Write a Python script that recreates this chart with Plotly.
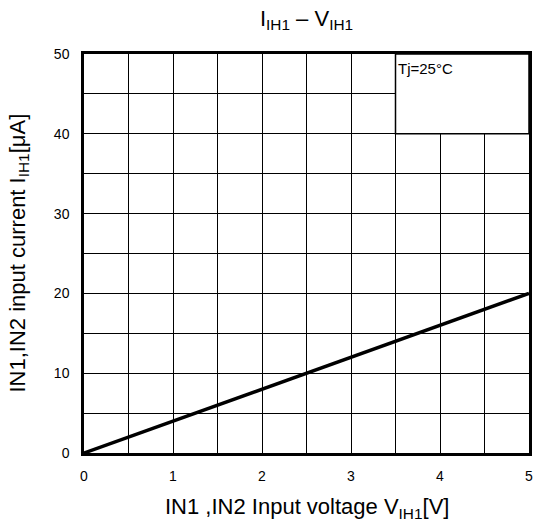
import plotly.graph_objects as go

voltage = [0, 5]
current = [0, 20]
x_ticks = [0, 1, 2, 3, 4, 5]
y_ticks = [0, 10, 20, 30, 40, 50]

font = "Liberation Sans, Arial, sans-serif"

W, H = 536, 527
L, R, T, B = 84, 7, 54, 74

fig = go.Figure()
fig.add_trace(go.Scatter(x=voltage, y=current, mode="lines",
                         line=dict(color="black", width=3.5), showlegend=False,
                         hoverinfo="skip"))

fig.add_shape(type="rect", xref="x", yref="y", x0=3.5, x1=5, y0=40, y1=50,
              fillcolor="white", line=dict(color="black", width=1.5), layer="above")
fig.add_annotation(x=3.5, y=50, xref="x", yref="y", text="Tj=25°C", showarrow=False,
                   xanchor="left", yanchor="top", xshift=0, yshift=-4,
                   font=dict(family=font, size=15, color="black"))

fig.add_annotation(x=0.5, y=0, xref="paper", yref="paper", xanchor="center", yanchor="middle",
                   yshift=-55, showarrow=False,
                   text="IN1 ,IN2 Input voltage V<sub>IH1</sub>[V]",
                   font=dict(family=font, size=22, color="black"))
fig.add_annotation(x=0, y=0.5, xref="paper", yref="paper", xanchor="center", yanchor="middle",
                   xshift=-66, showarrow=False, textangle=-90,
                   text="IN1,IN2 input current I<sub>IH1</sub>[μA]",
                   font=dict(family=font, size=22, color="black"))

fig.update_layout(
    width=W, height=H,
    margin=dict(l=L, r=R, t=T, b=B, autoexpand=False),
    paper_bgcolor="white", plot_bgcolor="white",
    font=dict(family=font, color="black"),
    title=dict(text="I<sub>IH1</sub> – V<sub>IH1</sub>", x=(L + (W - R)) / 2 / W, xanchor="center",
               xref="container", yref="container", y=1 - 18 / H, yanchor="middle",
               font=dict(size=22, family=font, color="black")),
)

fig.update_xaxes(range=[0, 5], tickvals=x_ticks, ticktext=[str(v) for v in x_ticks],
                 showgrid=True, gridcolor="black", gridwidth=1,
                 minor=dict(dtick=0.5, showgrid=True, gridcolor="black", gridwidth=1),
                 showline=True, linecolor="black", linewidth=2.5, mirror=True,
                 ticks="outside", ticklen=8, tickcolor="rgba(0,0,0,0)",
                 tickfont=dict(size=14, family=font), zeroline=False, automargin=False)
fig.update_yaxes(range=[0, 50], tickvals=y_ticks, ticktext=[str(v) for v in y_ticks],
                 showgrid=True, gridcolor="black", gridwidth=1,
                 minor=dict(dtick=5, showgrid=True, gridcolor="black", gridwidth=1),
                 showline=True, linecolor="black", linewidth=2.5, mirror=True,
                 ticks="outside", ticklen=9, tickcolor="rgba(0,0,0,0)",
                 tickfont=dict(size=14, family=font), zeroline=False, automargin=False)

fig.write_html("out.html", config={"displayModeBar": False},
               post_script="document.body.style.margin='0';")
